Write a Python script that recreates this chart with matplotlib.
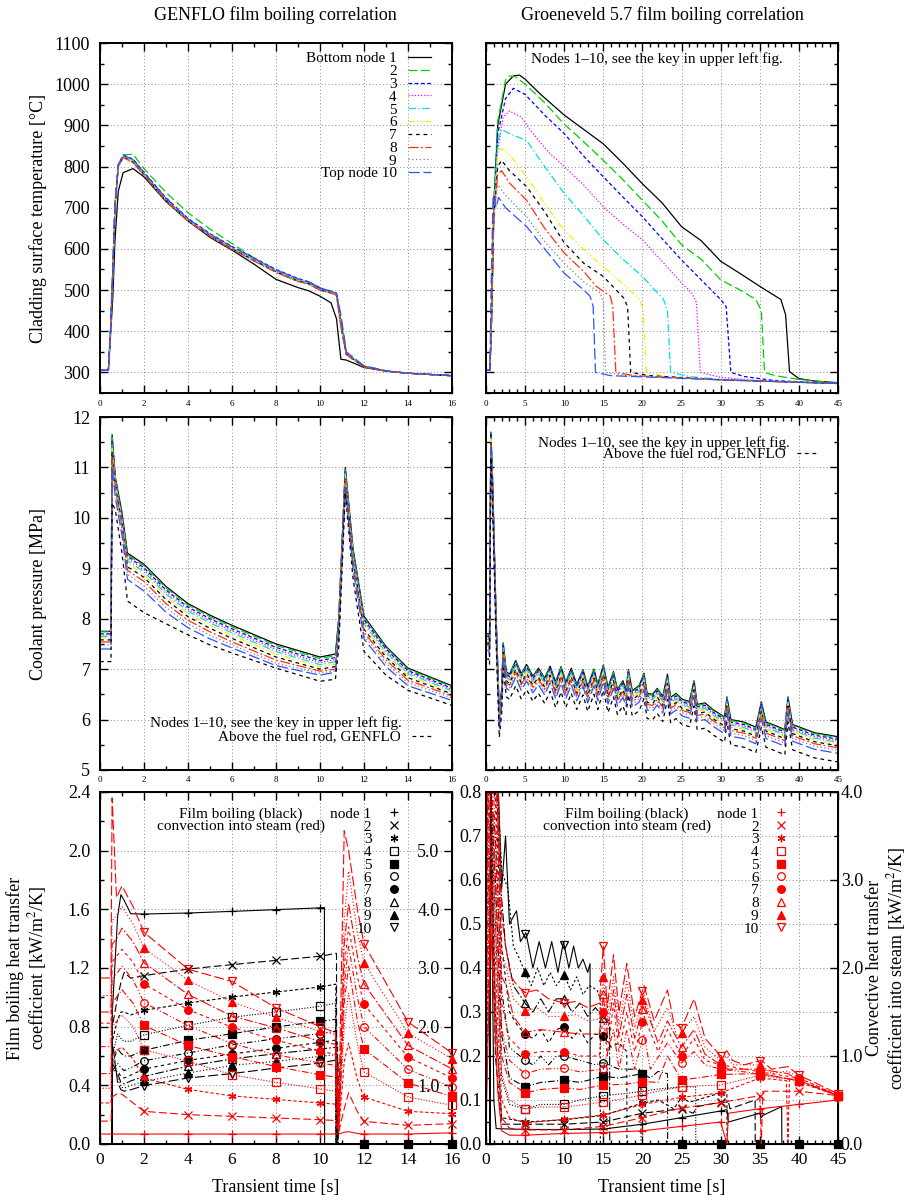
import numpy as np
import matplotlib
matplotlib.use("Agg")
import matplotlib.pyplot as plt
from matplotlib.lines import Line2D
from matplotlib.ticker import MultipleLocator, FormatStrFormatter, FixedLocator, FixedFormatter

plt.rcParams['font.family'] = ['Liberation Serif', 'DejaVu Serif']
plt.rcParams['mathtext.fontset'] = 'stix'

# ---------------- node styles ----------------
node_colors = ['black', '#00d000', '#0000ff', '#ff00ff', '#00e0e0',
               '#f0f000', 'black', '#ff3010', '#808080', '#3050ff']
node_dashes = ['-', (0, (7, 3)), (0, (3, 2)), (0, (1, 1.5)), (0, (6, 2, 1, 2)),
               (0, (5, 2, 1, 2, 1, 2)), (0, (3, 3)), (0, (8, 2, 1.5, 2)),
               (0, (1, 2)), (0, (9, 3))]
node_markers = ['+', 'x', (6, 2, 0), 's', 's', 'o', 'o', '^', '^', 'v']
node_filled = [True, True, True, False, True, False, True, False, True, False]
key_labels = ['Bottom node 1', '2', '3', '4', '5', '6', '7', '8', '9', 'Top node 10']

# ---------------- top left: GENFLO cladding temperature [C] ----------------
tl_t = [0, 0.38, 0.48, 0.58, 0.68, 0.83, 1.05, 1.5, 2, 3, 4, 5, 6, 7, 8, 9, 9.5,
        10, 10.5, 10.75, 10.95, 11.2, 12, 13, 14, 16]
tl_T = [
    [305, 305, 390, 480, 620, 740, 785, 795, 775, 715, 668, 628, 597, 563, 526, 506, 498, 485, 469, 430, 332, 330, 312, 303, 298, 292],
    [305, 305, 400, 540, 700, 800, 828, 830, 795, 737, 688, 648, 613, 578, 545, 522, 520, 506, 497, 492, 430, 345, 316, 304, 298, 292],
    [305, 305, 405, 548, 708, 805, 828, 818, 786, 724, 674, 637, 606, 578, 550, 528, 520, 505, 497, 492, 425, 346, 315, 303, 298, 292],
    [305, 305, 404, 546, 706, 803, 826, 814, 783, 721, 671, 635, 603, 575, 547, 525, 517, 503, 495, 490, 420, 345, 315, 303, 298, 292],
    [305, 305, 404, 545, 705, 802, 825, 813, 782, 720, 670, 634, 602, 574, 546, 524, 516, 502, 494, 490, 418, 344, 315, 303, 298, 292],
    [305, 305, 403, 544, 704, 801, 824, 812, 781, 719, 669, 633, 601, 573, 545, 523, 515, 501, 494, 489, 415, 344, 314, 303, 298, 292],
    [305, 305, 403, 543, 703, 800, 823, 811, 780, 718, 668, 632, 600, 572, 544, 522, 515, 500, 493, 488, 412, 343, 314, 303, 298, 292],
    [305, 305, 402, 542, 702, 799, 822, 810, 779, 717, 667, 631, 599, 571, 543, 521, 514, 500, 493, 488, 410, 343, 314, 303, 298, 292],
    [305, 305, 402, 541, 701, 798, 821, 809, 778, 716, 666, 630, 598, 570, 542, 520, 513, 499, 492, 487, 408, 342, 313, 303, 298, 292],
    [305, 305, 405, 547, 707, 804, 827, 817, 785, 723, 673, 636, 605, 577, 549, 527, 519, 504, 496, 493, 440, 350, 316, 304, 298, 292],
]

# ---------------- top right: Groeneveld cladding temperature [C] ----------------
tr_t = [
    [0, 0.5, 0.7, 1.0, 1.5, 2.5, 3.5, 4.3, 5, 7, 10, 12.5, 15, 17.5, 20, 22.5, 25, 27.5, 30, 32.5, 35, 37.7, 38.3, 38.8, 40, 42, 45],
    [0, 0.5, 0.7, 1.0, 1.5, 2.5, 3.0, 3.8, 5, 7.5, 10, 12.5, 15, 17.5, 20, 22.5, 25, 27.5, 30, 32.5, 34.5, 35.2, 35.6, 37, 40, 45],
    [0, 0.5, 0.7, 1.0, 1.5, 2.5, 3.5, 5, 7.5, 10, 12.5, 15, 17.5, 20, 22.5, 25, 27.5, 30, 30.7, 31.3, 33, 37, 45],
    [0, 0.5, 0.7, 1.0, 1.5, 2.2, 3.0, 4.5, 6, 8, 10, 12.5, 15, 17.5, 20, 22.5, 25, 26.3, 26.9, 27.4, 30, 35, 45],
    [0, 0.5, 0.7, 1.0, 1.5, 2.0, 3.0, 5.2, 7.5, 10, 12.5, 15, 17.5, 20, 22.7, 23.2, 23.6, 26, 30, 45],
    [0, 0.5, 0.7, 1.0, 1.5, 2.5, 5.2, 7.5, 10, 12.5, 15, 17.5, 19.7, 20.1, 20.5, 23, 30, 45],
    [0, 0.5, 0.7, 1.0, 1.5, 2.0, 3.0, 5.2, 7.5, 10, 12.5, 15, 17.6, 18.1, 18.5, 21, 30, 45],
    [0, 0.5, 0.7, 1.0, 1.5, 2.0, 3.0, 5.2, 7.5, 10, 12.5, 14.1, 15.9, 16.2, 16.6, 19, 30, 45],
    [0, 0.5, 0.7, 1.0, 1.5, 2.5, 5.2, 7.5, 10, 12.5, 14.6, 15.0, 15.3, 18, 30, 45],
    [0, 0.5, 0.65, 0.9, 1.3, 1.6, 2.5, 5.2, 7.5, 10, 12.5, 13.3, 13.7, 14.0, 16, 30, 45],
]
tr_T = [
    [305, 305, 420, 700, 900, 1000, 1020, 1022, 1012, 975, 925, 890, 855, 808, 758, 712, 654, 620, 570, 540, 509, 477, 440, 302, 285, 279, 275],
    [305, 305, 430, 720, 910, 1010, 1020, 1018, 1000, 955, 903, 860, 815, 768, 718, 668, 610, 575, 525, 500, 477, 450, 300, 292, 283, 274],
    [305, 305, 430, 700, 880, 965, 990, 975, 925, 880, 825, 775, 726, 678, 625, 573, 525, 477, 460, 300, 290, 280, 273],
    [305, 305, 420, 680, 840, 920, 935, 920, 880, 835, 800, 755, 702, 660, 622, 570, 517, 493, 470, 300, 288, 280, 273],
    [305, 305, 420, 680, 860, 890, 880, 863, 800, 735, 680, 622, 575, 533, 477, 450, 300, 290, 283, 273],
    [305, 305, 420, 680, 845, 840, 775, 710, 645, 598, 557, 515, 477, 450, 300, 290, 282, 273],
    [305, 305, 420, 680, 800, 815, 790, 751, 690, 615, 565, 533, 481, 460, 300, 292, 282, 273],
    [305, 305, 420, 680, 780, 790, 760, 718, 650, 590, 545, 509, 485, 460, 300, 292, 282, 273],
    [305, 305, 420, 680, 755, 730, 678, 618, 565, 520, 493, 470, 300, 292, 282, 273],
    [305, 305, 500, 730, 700, 725, 700, 654, 600, 541, 500, 485, 460, 300, 292, 282, 273],
]

# ---------------- middle left: GENFLO coolant pressure [MPa] ----------------
ml_t = [0, 0.5, 0.55, 0.7, 1.0, 1.25, 2, 3, 4, 5, 6, 8, 10, 10.7, 10.85, 11.15, 11.5, 12, 13, 14, 16]
ml_p = [
    [7.75, 7.75, 11.65, 10.8, 10.1, 9.3, 9.08, 8.64, 8.3, 8.07, 7.87, 7.5, 7.24, 7.3, 8.0, 11.0, 9.4, 8.05, 7.45, 7.02, 6.67],
    [7.74, 7.74, 11.6, 10.78, 10.08, 9.27, 9.05, 8.61, 8.27, 8.04, 7.84, 7.47, 7.21, 7.27, 7.97, 10.98, 9.37, 8.02, 7.43, 7.0, 6.65],
    [7.7, 7.7, 11.55, 10.75, 10.05, 9.24, 9.01, 8.57, 8.23, 8.0, 7.8, 7.43, 7.17, 7.23, 7.93, 10.95, 9.33, 7.98, 7.4, 6.97, 6.62],
    [7.68, 7.68, 11.5, 10.72, 10.0, 9.2, 8.97, 8.53, 8.19, 7.96, 7.76, 7.39, 7.13, 7.19, 7.9, 10.92, 9.3, 7.94, 7.37, 6.94, 6.6],
    [7.65, 7.65, 11.45, 10.7, 9.97, 9.15, 8.93, 8.49, 8.15, 7.92, 7.72, 7.35, 7.09, 7.15, 7.86, 10.88, 9.26, 7.9, 7.33, 6.91, 6.57],
    [7.62, 7.62, 11.4, 10.66, 9.93, 9.1, 8.88, 8.44, 8.1, 7.87, 7.67, 7.3, 7.05, 7.1, 7.82, 10.85, 9.22, 7.85, 7.29, 6.87, 6.54],
    [7.58, 7.58, 11.3, 10.62, 9.88, 9.03, 8.82, 8.38, 8.04, 7.81, 7.61, 7.24, 7.0, 7.05, 7.77, 10.8, 9.17, 7.79, 7.24, 6.83, 6.51],
    [7.54, 7.54, 11.2, 10.58, 9.82, 8.96, 8.74, 8.3, 7.97, 7.74, 7.54, 7.18, 6.96, 7.0, 7.72, 10.75, 9.12, 7.73, 7.18, 6.78, 6.47],
    [7.48, 7.48, 11.1, 10.5, 9.75, 8.88, 8.65, 8.22, 7.9, 7.67, 7.48, 7.12, 6.92, 6.97, 7.66, 10.7, 9.06, 7.67, 7.12, 6.73, 6.43],
    [7.4, 7.4, 11.0, 10.4, 9.65, 8.78, 8.55, 8.13, 7.82, 7.6, 7.42, 7.07, 6.88, 6.94, 7.6, 10.6, 9.0, 7.6, 7.05, 6.67, 6.38],
]
ml_above = [7.15, 7.15, 10.3, 10.15, 9.3, 8.35, 8.12, 7.9, 7.68, 7.48, 7.32, 7.02, 6.76, 6.8, 7.4, 10.5, 8.8, 7.35, 6.88, 6.58, 6.28]

# ---------------- middle right: Groeneveld coolant pressure [MPa] ----------------
mr_t = [0, 0.35, 0.45, 0.62, 0.8, 1.0, 1.3, 1.7, 2.0, 2.2, 2.6, 3.0, 3.8, 4.5, 5.2, 6.0, 6.7, 7.5,
        8.2, 8.9, 9.6, 10.2, 10.9, 11.6, 12.4, 13.0, 13.8, 14.3, 15.0, 15.6, 16.3, 16.8, 17.5,
        17.9, 18.2, 18.7, 19.6, 20.2, 20.6, 21.3, 21.9, 22.6, 23.2, 23.6, 24.3, 25.1, 26.0,
        26.6, 27.0, 28.0, 29.0, 30.0, 30.5, 30.8, 31.3, 33.0, 34.5, 35.2, 35.8, 37.0, 38.2,
        38.6, 39.2, 42.0, 45.0]
mr_p_node1 = [7.7, 7.7, 7.6, 11.7, 11.0, 9.8, 8.0, 6.15, 6.6, 7.52, 6.95, 6.9, 7.17, 6.91, 7.09,
              6.86, 7.02, 6.82, 7.06, 6.74, 7.05, 6.74, 7.02, 6.7, 6.99, 6.66, 7.0, 6.7, 7.08,
              6.64, 6.95, 6.6, 6.77, 6.6, 6.99, 6.57, 6.68, 6.92, 6.52, 6.5, 6.62, 6.46, 6.9,
              6.44, 6.52, 6.4, 6.36, 6.77, 6.3, 6.33, 6.2, 6.1, 6.05, 6.45, 6.0, 5.95, 5.85,
              6.35, 5.95, 5.88, 5.8, 6.45, 5.9, 5.74, 5.66]
# pressure drop of each node below node 1, and of the volume above the rod
mr_offset = [0.0, 0.02, 0.05, 0.08, 0.11, 0.14, 0.18, 0.22, 0.27, 0.33]
mr_above_offset = 0.5

# ---------------- bottom left: GENFLO heat transfer coefficients ----------------
bl_bt_head = [0, 0.55, 0.56, 0.8, 0.95, 1.1, 1.4, 2, 4, 6, 8, 10]
bl_bt_tail = [12, 14, 16]
bl_black_end = [10.2, 10.75, 10.72, 10.7, 10.72, 10.75, 10.78, 10.8, 10.8, 10.82]
bl_black = [
    [0, 0, 0.9, 1.55, 1.7, 1.66, 1.57, 1.568, 1.575, 1.586, 1.598, 1.61, 1.612, 0, 0, 0, 0],
    [0, 0, 0.8, 1.0, 1.1, 1.17, 1.13, 1.148, 1.193, 1.223, 1.252, 1.28, 1.3, 0, 0, 0, 0],
    [0, 0, 0.7, 0.85, 0.9, 0.9, 0.88, 0.911, 0.961, 1.002, 1.036, 1.07, 1.09, 0, 0, 0, 0],
    [0, 0, 0.6, 0.75, 0.72, 0.7, 0.7, 0.745, 0.809, 0.864, 0.9, 0.939, 0.96, 0, 0, 0, 0],
    [0, 0, 0.55, 0.65, 0.62, 0.6, 0.6, 0.639, 0.707, 0.752, 0.798, 0.836, 0.85, 0, 0, 0, 0],
    [0, 0, 0.5, 0.55, 0.52, 0.5, 0.52, 0.568, 0.62, 0.677, 0.718, 0.752, 0.77, 0, 0, 0, 0],
    [0, 0, 0.5, 0.5, 0.46, 0.45, 0.47, 0.511, 0.57, 0.614, 0.652, 0.693, 0.71, 0, 0, 0, 0],
    [0, 0, 0.55, 0.48, 0.42, 0.41, 0.43, 0.461, 0.53, 0.58, 0.616, 0.648, 0.66, 0, 0, 0, 0],
    [0, 0, 0.6, 0.45, 0.39, 0.38, 0.4, 0.427, 0.484, 0.536, 0.564, 0.598, 0.61, 0, 0, 0, 0],
    [0, 0, 0.7, 0.42, 0.37, 0.36, 0.37, 0.398, 0.45, 0.48, 0.518, 0.552, 0.575, 0, 0, 0, 0],
]
bl_rt = [0, 0.5, 0.55, 0.75, 1.0, 1.5, 2, 4, 6, 8, 10, 10.7, 10.85, 11.1, 11.3, 11.7, 12, 14, 16]
bl_red = [
    [0.17, 0.17, 0.17, 0.17, 0.17, 0.17, 0.17, 0.17, 0.17, 0.17, 0.17, 0.17, 0.17, 0.2, 0.21, 0.18, 0.17, 0.17, 0.19],
    [0.39, 0.39, 0.8, 0.85, 0.85, 0.7, 0.557, 0.5, 0.472, 0.443, 0.415, 0.4, 0.2, 0.6, 0.87, 0.55, 0.386, 0.318, 0.347],
    [0.7, 0.7, 1.5, 1.6, 1.65, 1.45, 1.125, 0.93, 0.82, 0.76, 0.7, 0.68, 0.22, 1.4, 1.72, 1.1, 0.8, 0.557, 0.517],
    [0.95, 0.95, 2.0, 2.1, 2.2, 2.0, 1.61, 1.41, 1.18, 1.05, 0.94, 0.9, 0.25, 2.0, 2.57, 1.7, 1.23, 0.8, 0.66],
    [1.2, 1.2, 2.4, 2.5, 2.63, 2.4, 2.02, 1.68, 1.49, 1.32, 1.18, 1.14, 0.28, 2.4, 3.03, 2.1, 1.62, 1.04, 0.81],
    [1.66, 1.66, 2.8, 2.9, 3.03, 2.8, 2.41, 2.02, 1.71, 1.52, 1.38, 1.34, 0.3, 2.7, 3.37, 2.5, 2.0, 1.27, 0.97],
    [2.06, 2.06, 3.1, 3.2, 3.32, 3.1, 2.73, 2.29, 1.99, 1.77, 1.58, 1.53, 0.35, 3.0, 3.7, 2.85, 2.38, 1.48, 1.125],
    [2.25, 2.25, 3.4, 3.5, 3.68, 3.45, 3.09, 2.55, 2.18, 1.98, 1.75, 1.7, 0.4, 3.4, 4.1, 3.2, 2.73, 1.68, 1.28],
    [2.53, 2.53, 3.8, 3.9, 4.05, 3.75, 3.34, 2.79, 2.42, 2.16, 1.92, 1.87, 0.45, 3.8, 4.65, 3.6, 3.09, 1.89, 1.45],
    [2.83, 2.83, 5.9, 4.2, 4.4, 4.05, 3.61, 2.98, 2.77, 2.32, 2.0, 1.9, 0.5, 5.34, 5.0, 4.0, 3.41, 2.08, 1.55],
]
bl_mark_t = [2, 4, 6, 8, 10, 12, 14, 16]

# ---------------- bottom right: Groeneveld heat transfer coefficients ----------------
br_black_t = [
    [0, 0.5, 0.6, 1.0, 1.3, 5, 10, 15, 20, 25, 30, 30.8, 31.0, 35, 35.2, 35.4, 37.8, 37.82, 40, 45],
    [0, 0.5, 0.6, 1.2, 2, 5, 10, 15, 20, 25, 26.5, 27, 30, 31, 31.2, 34.4, 34.42, 35, 40, 45],
    [0, 0.5, 0.6, 1.2, 2, 5, 10, 15, 20, 22, 24, 25, 26, 30, 30.8, 30.82, 35, 40, 45],
    [0, 0.5, 0.6, 1.2, 2, 3, 5, 7, 10, 12, 15, 18, 20, 22, 25, 26.8, 26.82, 30, 35, 40, 45],
    [0, 0.5, 0.6, 1.2, 2, 3, 5, 7, 10, 12, 15, 17, 20, 21, 22, 23.2, 23.22, 25, 30, 35, 40, 45],
    [0, 0.5, 0.6, 1.2, 2, 3, 5, 6, 7, 8, 9, 10, 12, 14, 15, 17, 19.8, 19.82, 25, 30, 35, 40, 45],
    [0, 0.5, 0.6, 1.2, 2, 3, 4, 5, 6, 7, 8, 9, 10, 11, 12, 13, 14, 15, 16, 17, 18, 18.02, 20, 25, 30, 35, 40, 45],
    [0, 0.5, 0.6, 1.2, 1.8, 2.5, 3.5, 5, 6, 7, 8, 9, 10, 11, 12, 13, 14, 15, 15.8, 15.82, 20, 25, 30, 35, 40, 45],
    [0, 0.5, 0.6, 1.0, 1.5, 2.0, 2.8, 3.5, 4.3, 5, 5.8, 6.6, 7.4, 8.2, 9, 10, 10.8, 11.6, 12.4, 13.2, 14.2, 14.6, 14.62, 15, 20, 25, 30, 35, 40, 45],
    [0, 0.5, 0.6, 1.0, 1.5, 2.0, 2.5, 3.0, 3.9, 4.4, 5.1, 6.0, 6.8, 7.6, 8.4, 9.2, 9.9, 10.6, 11.2, 11.8, 12.4, 13.0, 13.3, 13.32, 15, 20, 25, 30, 35, 40, 45],
]
br_black_v = [
    [0, 0, 0.8, 0.1, 0.035, 0.033, 0.033, 0.034, 0.045, 0.06, 0.075, 0.078, 0.05, 0.07, 0.06, 0.065, 0.085, 0, 0, 0],
    [0, 0, 0.8, 0.2, 0.045, 0.045, 0.045, 0.05, 0.07, 0.08, 0.07, 0.085, 0.095, 0.095, 0.08, 0.1, 0, 0, 0, 0],
    [0, 0, 0.8, 0.3, 0.06, 0.05, 0.055, 0.065, 0.093, 0.1, 0.08, 0.106, 0.095, 0.116, 0.116, 0, 0, 0, 0],
    [0, 0, 0.8, 0.5, 0.15, 0.09, 0.08, 0.09, 0.09, 0.1, 0.11, 0.115, 0.12, 0.125, 0.13, 0.13, 0, 0, 0, 0, 0],
    [0, 0, 0.8, 0.6, 0.25, 0.15, 0.13, 0.14, 0.145, 0.14, 0.154, 0.15, 0.16, 0.15, 0.165, 0.16, 0, 0, 0, 0, 0, 0],
    [0, 0, 0.8, 0.7, 0.35, 0.22, 0.19, 0.18, 0.2, 0.18, 0.2, 0.2, 0.19, 0.18, 0.185, 0.17, 0.17, 0, 0, 0, 0, 0, 0],
    [0, 0, 0.85, 0.8, 0.45, 0.3, 0.27, 0.25, 0.24, 0.26, 0.23, 0.26, 0.267, 0.24, 0.26, 0.23, 0.25, 0.245, 0.22, 0.23, 0.21, 0, 0, 0, 0, 0, 0, 0],
    [0, 0, 0.9, 0.9, 0.6, 0.45, 0.36, 0.32, 0.3, 0.33, 0.3, 0.33, 0.33, 0.3, 0.32, 0.29, 0.31, 0.286, 0.28, 0, 0, 0, 0, 0, 0, 0],
    [0, 0, 0.95, 0.95, 0.8, 0.62, 0.58, 0.45, 0.42, 0.39, 0.36, 0.4, 0.36, 0.39, 0.36, 0.385, 0.35, 0.38, 0.34, 0.36, 0.35, 0.33, 0, 0, 0, 0, 0, 0, 0, 0],
    [0, 0, 0.95, 0.95, 0.85, 0.58, 0.70, 0.50, 0.53, 0.46, 0.48, 0.40, 0.46, 0.40, 0.46, 0.39, 0.46, 0.40, 0.45, 0.40, 0.42, 0.39, 0.41, 0, 0, 0, 0, 0, 0, 0, 0],
]
br_black_dashes = ['-', (0, (7, 3)), (0, (3, 2)), (0, (1, 1.5)), (0, (6, 2, 1, 2)),
                   (0, (5, 2, 1, 2, 1, 2)), (0, (3, 3)), (0, (8, 2, 1.5, 2)),
                   (0, (2, 2)), '-']
br_red_t = [
    [0, 0.6, 1.5, 2.0, 3, 5, 10, 15, 20, 25, 30, 30.8, 31, 35, 40, 45],
    [0, 0.6, 1.5, 2.0, 3, 5, 10, 15, 20, 25, 30, 35, 35.2, 35.4, 40, 45],
    [0, 0.6, 1.5, 2.0, 3, 5, 10, 15, 20, 25, 30, 35, 38.4, 38.6, 38.8, 40, 45],
    [0, 0.6, 1.5, 2.0, 3, 5, 7, 10, 12, 15, 18, 20, 22, 25, 27, 30, 35, 40, 45],
    [0, 0.6, 1.5, 2.0, 3, 5, 7, 10, 12, 15, 18, 20, 22, 23.2, 25, 27, 30, 35, 40, 45],
    [0, 0.6, 1.5, 2.0, 3, 5, 7, 10, 12, 15, 16.3, 17, 18, 19, 20.2, 21, 23.2, 25, 26.6, 28, 30, 35, 40, 45],
    [0, 0.6, 1.5, 2.0, 3, 5, 7, 10, 12, 14.5, 15.0, 15.5, 16.3, 17, 18, 19, 20.2, 22, 23.2, 25, 26.6, 28, 30, 35, 40, 45],
    [0, 0.6, 1.5, 2.0, 2.6, 3.5, 5, 7, 10, 12, 14.5, 15.0, 15.5, 16.3, 17, 18, 19, 20.2, 22, 23.2, 25, 26.6, 28, 30, 31, 35, 38.6, 40, 45],
    [0, 0.6, 1.5, 2.0, 2.6, 3.5, 5, 6.5, 8, 10, 11.5, 13, 14.5, 15.0, 15.5, 16.3, 17, 18, 19, 20.2, 21.5, 23.2, 24.5, 26.6, 28, 30, 30.8, 31.5, 35.2, 36.5, 38.6, 40, 45],
    [0, 0.6, 1.5, 2.0, 2.5, 3.2, 4.0, 5, 6.5, 8, 10, 11.5, 13, 14.5, 15.0, 15.5, 16.3, 17, 18, 19, 20.2, 21.5, 23.2, 24, 25, 26.6, 28, 30, 30.8, 31.5, 33, 35.2, 36.5, 38.6, 40, 42, 45],
]
br_red_v = [
    [0.17, 2.5, 0.6, 0.15, 0.1, 0.1, 0.12, 0.13, 0.15, 0.2, 0.25, 0.0, 0.35, 0.4, 0.45, 0.5],
    [0.39, 3.0, 1.0, 0.3, 0.18, 0.16, 0.16, 0.2, 0.3, 0.41, 0.47, 0.55, 0.0, 0.6, 0.6, 0.55],
    [0.7, 3.5, 1.4, 0.5, 0.3, 0.24, 0.28, 0.33, 0.45, 0.53, 0.58, 0.75, 0.72, 0.0, 0.75, 0.7, 0.55],
    [0.95, 4.0, 1.8, 0.8, 0.5, 0.4, 0.42, 0.42, 0.44, 0.48, 0.52, 0.56, 0.6, 0.65, 0.66, 0.67, 0.78, 0.72, 0.55],
    [1.2, 4.5, 2.2, 1.0, 0.7, 0.58, 0.62, 0.64, 0.62, 0.67, 0.68, 0.71, 0.7, 1.0, 0.73, 0.75, 0.79, 0.8, 0.72, 0.55],
    [1.66, 5.0, 2.6, 1.3, 0.95, 0.8, 0.85, 0.86, 0.82, 0.85, 1.3, 0.85, 1.3, 0.85, 1.25, 0.85, 1.15, 0.92, 1.05, 0.9, 0.85, 0.8, 0.72, 0.55],
    [2.06, 5.5, 3.0, 1.6, 1.2, 1.02, 1.05, 1.05, 1.0, 1.0, 1.5, 1.0, 1.6, 1.05, 1.5, 1.05, 1.45, 1.05, 1.3, 1.0, 1.2, 0.95, 0.9, 0.82, 0.75, 0.55],
    [2.25, 6.0, 3.6, 1.9, 1.8, 1.45, 1.27, 1.3, 1.27, 1.25, 1.25, 1.7, 1.25, 1.75, 1.22, 1.7, 1.2, 1.6, 1.15, 1.4, 1.1, 1.3, 1.02, 0.9, 0.85, 0.85, 0.8, 0.72, 0.55],
    [2.53, 6.0, 4.0, 2.2, 2.0, 1.65, 1.51, 1.55, 1.45, 1.45, 1.47, 1.4, 1.42, 1.9, 1.4, 1.9, 1.35, 1.85, 1.32, 1.7, 1.28, 1.55, 1.2, 1.45, 1.1, 0.95, 1.0, 0.9, 0.9, 0.8, 0.83, 0.75, 0.56],
    [2.83, 6.0, 4.2, 2.6, 2.25, 1.9, 1.8, 1.72, 1.75, 1.65, 1.6, 1.62, 1.55, 1.6, 2.25, 1.55, 2.15, 1.5, 2.05, 1.45, 1.8, 1.4, 1.75, 1.38, 1.32, 1.65, 1.2, 1.0, 1.06, 0.95, 0.9, 0.95, 0.85, 0.88, 0.78, 0.7, 0.57],
]
br_mark_t = [5, 10, 15, 20, 25, 30, 35, 40, 45]

RED = '#ff0000'
BIG = 13
KEY = 11


def style_axes(ax, xlim, ylim, xmaj, xmin, ymaj, ymin, xlabsize, xpad):
    ax.set_xlim(*xlim)
    ax.set_ylim(*ylim)
    ax.xaxis.set_major_locator(MultipleLocator(xmaj))
    ax.xaxis.set_minor_locator(MultipleLocator(xmin))
    ax.yaxis.set_major_locator(MultipleLocator(ymaj))
    ax.yaxis.set_minor_locator(MultipleLocator(ymin))
    ax.tick_params(which='both', direction='in', top=True, right=True, width=1.0)
    ax.tick_params(which='major', length=6)
    ax.tick_params(which='minor', length=3)
    ax.tick_params(axis='x', labelsize=xlabsize, pad=xpad)
    ax.tick_params(axis='y', labelsize=BIG, pad=7)
    ax.grid(True, which='major', color='#888888', ls=(0, (1, 2.5)), lw=0.7)
    ax.set_axisbelow(True)
    for s in ax.spines.values():
        s.set_linewidth(1.4)


fig = plt.figure(figsize=(9.07, 12), dpi=100)
W = 352 / 907
X1, X2 = 100 / 907, 486 / 907
ax_tl = fig.add_axes([X1, 1 - 393 / 1200, W, 350 / 1200])
ax_tr = fig.add_axes([X2, 1 - 393 / 1200, W, 350 / 1200])
ax_ml = fig.add_axes([X1, 1 - 770 / 1200, W, 353 / 1200])
ax_mr = fig.add_axes([X2, 1 - 770 / 1200, W, 353 / 1200])
ax_bl = fig.add_axes([X1, 1 - 1144 / 1200, W, 352 / 1200])
ax_br = fig.add_axes([X2, 1 - 1144 / 1200, W, 352 / 1200])

fig.text(275 / 907, 1 - 15 / 1200, 'GENFLO film boiling correlation', ha='center', va='center', fontsize=BIG)
fig.text(662 / 907, 1 - 15 / 1200, 'Groeneveld 5.7 film boiling correlation', ha='center', va='center', fontsize=BIG)

# ---- top left ----
handles = []
for i in range(10):
    ln, = ax_tl.plot(tl_t, tl_T[i], color=node_colors[i], ls=node_dashes[i], lw=0.9)
    handles.append(ln)
style_axes(ax_tl, (0, 16), (250, 1100), 2, 1, 100, 50, 6.5, 5)
ax_tl.set_ylabel('Cladding surface temperature [°C]', fontsize=BIG)
ax_tl.yaxis.set_label_coords(-0.15, 0.5)
ax_tl.legend(handles, key_labels, loc='upper right', bbox_to_anchor=(0.94, 0.975),
             frameon=False, markerfirst=False, fontsize=KEY, labelspacing=-0.06,
             handlelength=1.5, handletextpad=0.75, borderpad=0, borderaxespad=0)

# ---- top right ----
for i in range(10):
    ax_tr.plot(tr_t[i], tr_T[i], color=node_colors[i], ls=node_dashes[i], lw=0.9)
style_axes(ax_tr, (0, 45), (250, 1100), 5, 1, 100, 50, 6.5, 5)
ax_tr.tick_params(labelleft=False)
ax_tr.text(0.486, 0.954, 'Nodes 1–10, see the key in upper left fig.', transform=ax_tr.transAxes,
           ha='center', va='center', fontsize=KEY)

# ---- middle left ----
for i in range(10):
    ax_ml.plot(ml_t, ml_p[i], color=node_colors[i], ls=node_dashes[i], lw=0.9)
ln_above, = ax_ml.plot(ml_t, ml_above, color='black', ls=(0, (3, 3)), lw=0.9)
style_axes(ax_ml, (0, 16), (5, 12), 2, 1, 1, 0.5, 6.5, 4)
ax_ml.set_ylabel('Coolant pressure [MPa]', fontsize=BIG)
ax_ml.yaxis.set_label_coords(-0.15, 0.5)
ax_ml.text(0.858, 0.133, 'Nodes 1–10, see the key in upper left fig.', transform=ax_ml.transAxes,
           ha='right', va='center', fontsize=KEY)
ax_ml.legend([ln_above], ['Above the fuel rod, GENFLO'], loc='center right',
             bbox_to_anchor=(0.943, 0.093), frameon=False, markerfirst=False, fontsize=KEY,
             handlelength=1.3, handletextpad=0.75, borderpad=0, borderaxespad=0)

# ---- middle right ----
for i in range(10):
    ax_mr.plot(mr_t, np.array(mr_p_node1) - mr_offset[i], color=node_colors[i], ls=node_dashes[i], lw=0.9)
ln_above2, = ax_mr.plot(mr_t, np.array(mr_p_node1) - mr_above_offset, color='black', ls=(0, (3, 3)), lw=0.9)
style_axes(ax_mr, (0, 45), (5, 12), 5, 1, 1, 0.5, 6.5, 4)
ax_mr.tick_params(labelleft=False)
ax_mr.text(0.864, 0.926, 'Nodes 1–10, see the key in upper left fig.', transform=ax_mr.transAxes,
           ha='right', va='center', fontsize=KEY)
ax_mr.legend([ln_above2], ['Above the fuel rod, GENFLO'], loc='center right',
             bbox_to_anchor=(0.94, 0.895), frameon=False, markerfirst=False, fontsize=KEY,
             handlelength=1.3, handletextpad=0.75, borderpad=0, borderaxespad=0)


def draw_markers(ax, t, v, mt, i, color, zero_ok):
    mv = np.interp(mt, t, v)
    mtt = np.array(mt, dtype=float)
    keep = (mv > 0) | zero_ok
    fc = color if node_filled[i] else 'none'
    ax.plot(mtt[keep], mv[keep], ls='none', marker=node_markers[i], ms=5.5,
            mec=color, mfc=fc, mew=0.9, clip_on=False, zorder=5)


def marker_key(ax, color, x_anchor):
    hs = [Line2D([], [], ls='none', marker=node_markers[i], ms=5.5, mec=color,
                 mfc=(color if node_filled[i] else 'none'), mew=0.9) for i in range(10)]
    labs = ['node 1'] + [str(k) for k in range(2, 11)]
    ax.legend(hs, labs, loc='upper right', bbox_to_anchor=(x_anchor, 0.957), frameon=False,
              markerfirst=False, fontsize=KEY, labelspacing=-0.06, handlelength=1.0,
              handletextpad=1.0, borderpad=0, borderaxespad=0)
    ax.text(0.40, 0.957, 'Film boiling (black)\nconvection into steam (red)', transform=ax.transAxes,
            ha='center', va='top', fontsize=KEY, linespacing=0.85)


# ---- bottom left ----
ax_bl2 = ax_bl.twinx()
for i in range(10):
    t = bl_bt_head + [bl_black_end[i], bl_black_end[i] + 0.01] + bl_bt_tail
    ax_bl.plot(t, bl_black[i], color='black', ls=node_dashes[i], lw=0.8)
    draw_markers(ax_bl, t, bl_black[i], bl_mark_t, i, 'black', i == 4)
for i in range(10):
    ax_bl2.plot(bl_rt, bl_red[i], color=RED, ls=node_dashes[i], lw=0.8)
    draw_markers(ax_bl2, bl_rt, bl_red[i], bl_mark_t, i, RED, False)
style_axes(ax_bl, (0, 16), (0, 2.4), 2, 1, 0.4, 0.2, 12.5, 6)
ax_bl.yaxis.set_major_formatter(FormatStrFormatter('%.1f'))
ax_bl.tick_params(axis='y', which='both', right=False)
ax_bl2.set_ylim(0, 6)
ax_bl2.yaxis.set_major_locator(FixedLocator([0, 1, 2, 3, 4, 5, 6]))
ax_bl2.yaxis.set_major_formatter(FixedFormatter(['', '1.0', '2.0', '3.0', '4.0', '5.0', '']))
ax_bl2.yaxis.set_minor_locator(MultipleLocator(0.5))
ax_bl2.tick_params(which='both', direction='in', width=1.0)
ax_bl2.tick_params(which='major', length=6, labelsize=BIG, pad=-25)
ax_bl2.tick_params(which='minor', length=3)
ax_bl.set_xlabel('Transient time [s]', fontsize=BIG)
ax_bl.xaxis.set_label_coords(0.5, -0.1)
ax_bl.set_ylabel('Film boiling heat transfer\ncoefficient [kW/m$^2$/K]', fontsize=BIG, linespacing=1.1)
ax_bl.yaxis.set_label_coords(-0.145, 0.5)
marker_key(ax_bl2, 'black', 0.858)

# ---- bottom right ----
ax_br2 = ax_br.twinx()
for i in range(10):
    ax_br.plot(br_black_t[i], br_black_v[i], color='black', ls=br_black_dashes[i], lw=0.8)
    draw_markers(ax_br, br_black_t[i], br_black_v[i], br_mark_t, i, 'black', i == 4)
for i in range(10):
    ax_br2.plot(br_red_t[i], br_red_v[i], color=RED, ls=node_dashes[i], lw=0.8)
    draw_markers(ax_br2, br_red_t[i], br_red_v[i], br_mark_t, i, RED, False)
style_axes(ax_br, (0, 45), (0, 0.8), 5, 1, 0.1, 0.05, 12.5, 6)
ax_br.yaxis.set_major_formatter(FormatStrFormatter('%.1f'))
ax_br.tick_params(axis='y', which='both', right=False, pad=3)
ax_br2.set_ylim(0, 4)
ax_br2.yaxis.set_major_locator(MultipleLocator(1.0))
ax_br2.yaxis.set_minor_locator(MultipleLocator(0.5))
ax_br2.yaxis.set_major_formatter(FormatStrFormatter('%.1f'))
ax_br2.tick_params(which='both', direction='in', width=1.0)
ax_br2.tick_params(which='major', length=6, labelsize=BIG, pad=2)
ax_br2.tick_params(which='minor', length=3)
ax_br.set_xlabel('Transient time [s]', fontsize=BIG)
ax_br.xaxis.set_label_coords(0.5, -0.1)
ax_br2.set_ylabel('Convective heat transfer\ncoefficient into steam [kW/m$^2$/K]', fontsize=BIG, linespacing=1.1)
ax_br2.yaxis.set_label_coords(1.08, 0.5)
marker_key(ax_br2, RED, 0.861)

fig.savefig('out.png', dpi=100)
